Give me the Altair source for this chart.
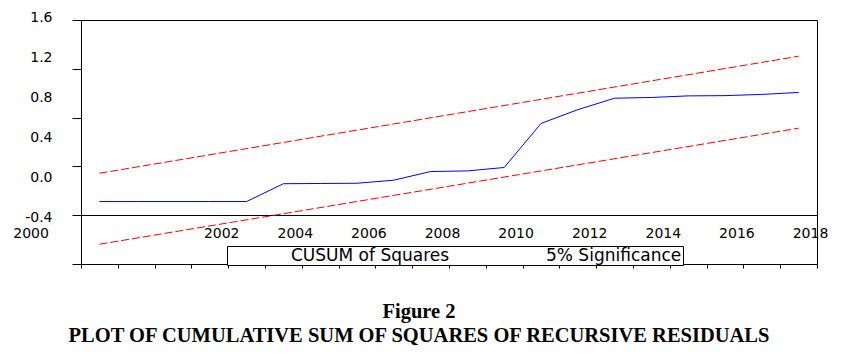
import altair as alt
import pandas as pd

# ---------------- data ----------------
years = list(range(1998, 2018))
cusum_sq = [0.112, 0.112, 0.112, 0.112, 0.112, 0.258, 0.260, 0.262, 0.287, 0.358,
            0.363, 0.391, 0.752, 0.865, 0.959, 0.965, 0.978, 0.980, 0.990, 1.006]

band_years = [1998, 2017]
upper_band = [0.344, 1.303]
lower_band = [-0.238, 0.713]

series_names = ["CUSUM of Squares", "5% Significance"]
series_colors = ["#0000ff", "#ff0000"]

x_tick_years = list(range(1998, 2019))
x_label_years = [2000, 2002, 2004, 2006, 2008, 2010, 2012, 2014, 2016, 2018]
y_tick_values = [-0.4, 0.0, 0.4, 0.8, 1.2, 1.6]

title_lines = ["Figure 2", "PLOT OF CUMULATIVE SUM OF SQUARES OF RECURSIVE RESIDUALS"]

# ---------------- tables ----------------
cusum_df = pd.DataFrame({"year": years, "value": cusum_sq, "series": series_names[0]})
band_df = pd.DataFrame({
    "year": band_years + band_years,
    "value": upper_band + lower_band,
    "series": series_names[1],
    "bound": ["upper"] * len(band_years) + ["lower"] * len(band_years),
})
xlab_df = pd.DataFrame({"year": x_label_years})
ylab_df = pd.DataFrame({"value": y_tick_values})

FONT = "DejaVu Sans"
HALF_YEAR = 18.4

xscale = alt.Scale(domain=[1998, 2018], nice=False, zero=False)
yscale = alt.Scale(domain=[-0.4, 1.6], nice=False, zero=False)

color = alt.Color(
    "series:N",
    scale=alt.Scale(domain=series_names, range=series_colors),
    legend=alt.Legend(
        orient="none", legendX=146, legendY=226, direction="horizontal",
        title=None, strokeColor="black", fillColor="white", padding=1,
        cornerRadius=0,
        symbolType="circle", symbolSize=100, symbolStrokeWidth=2.5, symbolOpacity=0,
        labelOffset=46, columnPadding=33,
        labelFont=FONT, labelFontSize=17, labelColor="black",
    ),
)

tick_x_axis = alt.Axis(
    orient="bottom", values=x_tick_years, labels=False, ticks=True, tickSize=4,
    tickColor="black", domain=True, domainColor="black", grid=False, title=None,
)
tick_y_axis = alt.Axis(
    orient="left", values=y_tick_values, labels=False, ticks=True, tickSize=9,
    tickColor="black", domain=True, domainColor="black",
    grid=True, gridColor="black", gridWidth=1,
    gridOpacity={"condition": {"test": "datum.value === 0", "value": 1}, "value": 0},
    title=None,
)

band = alt.Chart(band_df).mark_line(
    strokeDash=[8, 3], strokeWidth=1, xOffset=HALF_YEAR
).encode(
    x=alt.X("year:Q", scale=xscale, axis=tick_x_axis),
    y=alt.Y("value:Q", scale=yscale, axis=tick_y_axis),
    color=color,
    detail="bound:N",
)

cusum = alt.Chart(cusum_df).mark_line(strokeWidth=1, xOffset=HALF_YEAR).encode(
    x=alt.X("year:Q", scale=xscale, axis=None),
    y=alt.Y("value:Q", scale=yscale, axis=None),
    color=color,
)

xlab = alt.Chart(xlab_df).mark_point(opacity=0).encode(
    x=alt.X(
        "year:Q", scale=xscale,
        axis=alt.Axis(
            orient="bottom", offset=-48, values=x_label_years, format="d",
            domain=False, ticks=False, grid=False, labelPadding=10,
            labelOffset={"condition": {"test": "datum.value === 2000", "value": -124}, "value": -7},
            labelFlush=False, labelOverlap=False,
            labelFont=FONT, labelFontSize=14, labelColor="black", title=None,
        ),
    )
)

ylab = alt.Chart(ylab_df).mark_point(opacity=0).encode(
    y=alt.Y(
        "value:Q",
        scale=alt.Scale(domain=[-0.84, 1.6], nice=False, zero=False),
        axis=alt.Axis(
            orient="left", values=y_tick_values, format=".1f",
            labelExpr="replace(datum.label, '\u2212', '-')",
            domain=False, ticks=False, grid=False, labelPadding=29, labelOffset=-3,
            labelFlush=False, labelOverlap=False,
            labelFont=FONT, labelFontSize=14, labelColor="black", title=None,
        ),
    )
)

chart = (
    alt.layer(band, cusum, xlab, ylab)
    .resolve_scale(y="independent")
    .resolve_axis(x="independent", y="independent")
    .properties(
        width=736, height=244,
        padding={"left": 73, "top": 12, "right": 35, "bottom": 88},
        autosize=alt.AutoSizeParams(type="none"),
        background="white",
        title=alt.Title(
            title_lines, orient="bottom", anchor="middle",
            font="Liberation Serif", fontSize=20.5, fontWeight="bold", color="black",
            lineHeight=24, offset=33, dx=-30,
        ),
    )
    .configure_view(stroke="black", strokeWidth=1)
)

chart.save("out.html", embed_options={"renderer": "svg", "actions": False})
